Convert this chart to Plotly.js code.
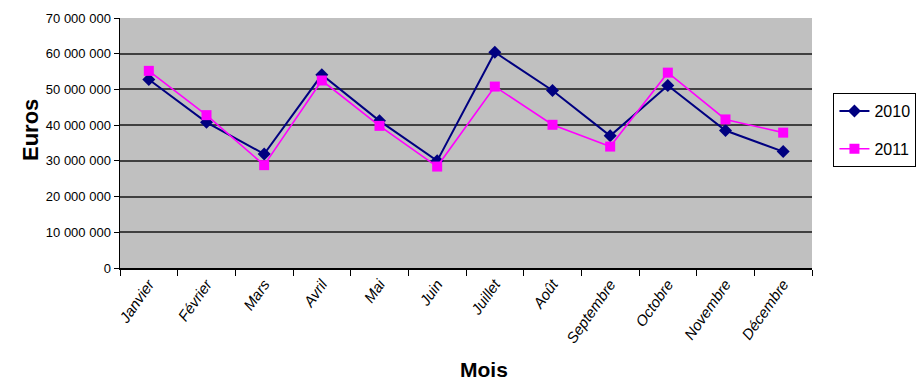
<!DOCTYPE html>
<html>
<head>
<meta charset="utf-8">
<script src="https://cdn.plot.ly/plotly-3.0.1.min.js"></script>
<style>
  html, body { margin: 0; padding: 0; background: #ffffff; }
  #chart { width: 916px; height: 382px; }
</style>
</head>
<body>
<div id="chart"></div>
<script>
// Chiffre d'affaires mensuel (euros), 2010 vs 2011
const mois = ['Janvier', 'Février', 'Mars', 'Avril', 'Mai', 'Juin',
              'Juillet', 'Août', 'Septembre', 'Octobre', 'Novembre', 'Décembre'];
const ventes2010 = [52800000, 40800000, 31900000, 54100000, 41200000, 30000000,
                    60400000, 49700000, 37000000, 51100000, 38500000, 32600000];
const ventes2011 = [55200000, 42800000, 28800000, 52500000, 39800000, 28400000,
                    50800000, 40100000, 34000000, 54700000, 41600000, 37900000];
const yTicks = [0, 10000000, 20000000, 30000000, 40000000, 50000000, 60000000, 70000000];

const SANS = 'Liberation Sans, Arial, sans-serif';

const traces = [
  {
    x: mois, y: ventes2010, name: '2010', legendgroup: 'a',
    type: 'scatter', mode: 'lines+markers',
    line: { color: '#000080', width: 2 },
    marker: { symbol: 'diamond', size: 10, color: '#000080' }
  },
  {
    x: mois, y: ventes2011, name: '2011', legendgroup: 'b',
    type: 'scatter', mode: 'lines+markers',
    line: { color: '#FF00FF', width: 1.6 },
    marker: { symbol: 'square', size: 10, color: '#FF00FF' }
  }
];

const layout = {
  width: 916, height: 382,
  margin: { l: 120, r: 104, t: 18, b: 114, autoexpand: false },
  paper_bgcolor: '#ffffff',
  plot_bgcolor: '#C0C0C0',
  separators: ', ',
  font: { family: SANS, color: '#000000', size: 13 },
  showlegend: true,
  legend: {
    x: 1.031, y: 0.70, xanchor: 'left', yanchor: 'top',
    bgcolor: '#ffffff', bordercolor: '#000000', borderwidth: 1,
    font: { size: 16, family: SANS },
    tracegroupgap: 14, itemwidth: 30
  },
  xaxis: {
    type: 'category',
    range: [-0.5, mois.length - 0.5],
    tickson: 'boundaries',
    tickvals: mois,
    ticktext: mois.map(m => '<i>' + m + '</i>'),
    ticks: 'outside', ticklen: 6, tickcolor: '#000000',
    showline: true, linecolor: '#000000', linewidth: 1.5,
    showgrid: false,
    tickangle: -55,
    tickfont: { size: 15, family: SANS },
    automargin: false,
    fixedrange: true
  },
  yaxis: {
    range: [0, 70000000],
    tickvals: yTicks,
    tickformat: ',d',
    ticks: 'outside', ticklen: 5, tickcolor: '#000000',
    showline: true, linecolor: '#000000', linewidth: 1.5,
    showgrid: true, gridcolor: '#404040', gridwidth: 2,
    zeroline: false,
    tickfont: { size: 13, family: SANS },
    automargin: false,
    fixedrange: true
  },
  annotations: [
    {
      text: '<b>Mois</b>', xref: 'paper', yref: 'paper',
      x: 0.526, y: -0.404, xanchor: 'center', yanchor: 'middle',
      showarrow: false, font: { size: 21, family: SANS }
    },
    {
      text: '<b>Euros</b>', xref: 'paper', yref: 'paper', textangle: -90,
      x: -0.130, y: 0.552, xanchor: 'center', yanchor: 'middle',
      showarrow: false, font: { size: 22, family: SANS }
    }
  ]
};

Plotly.newPlot('chart', traces, layout, { displayModeBar: false, staticPlot: true });
</script>
</body>
</html>
